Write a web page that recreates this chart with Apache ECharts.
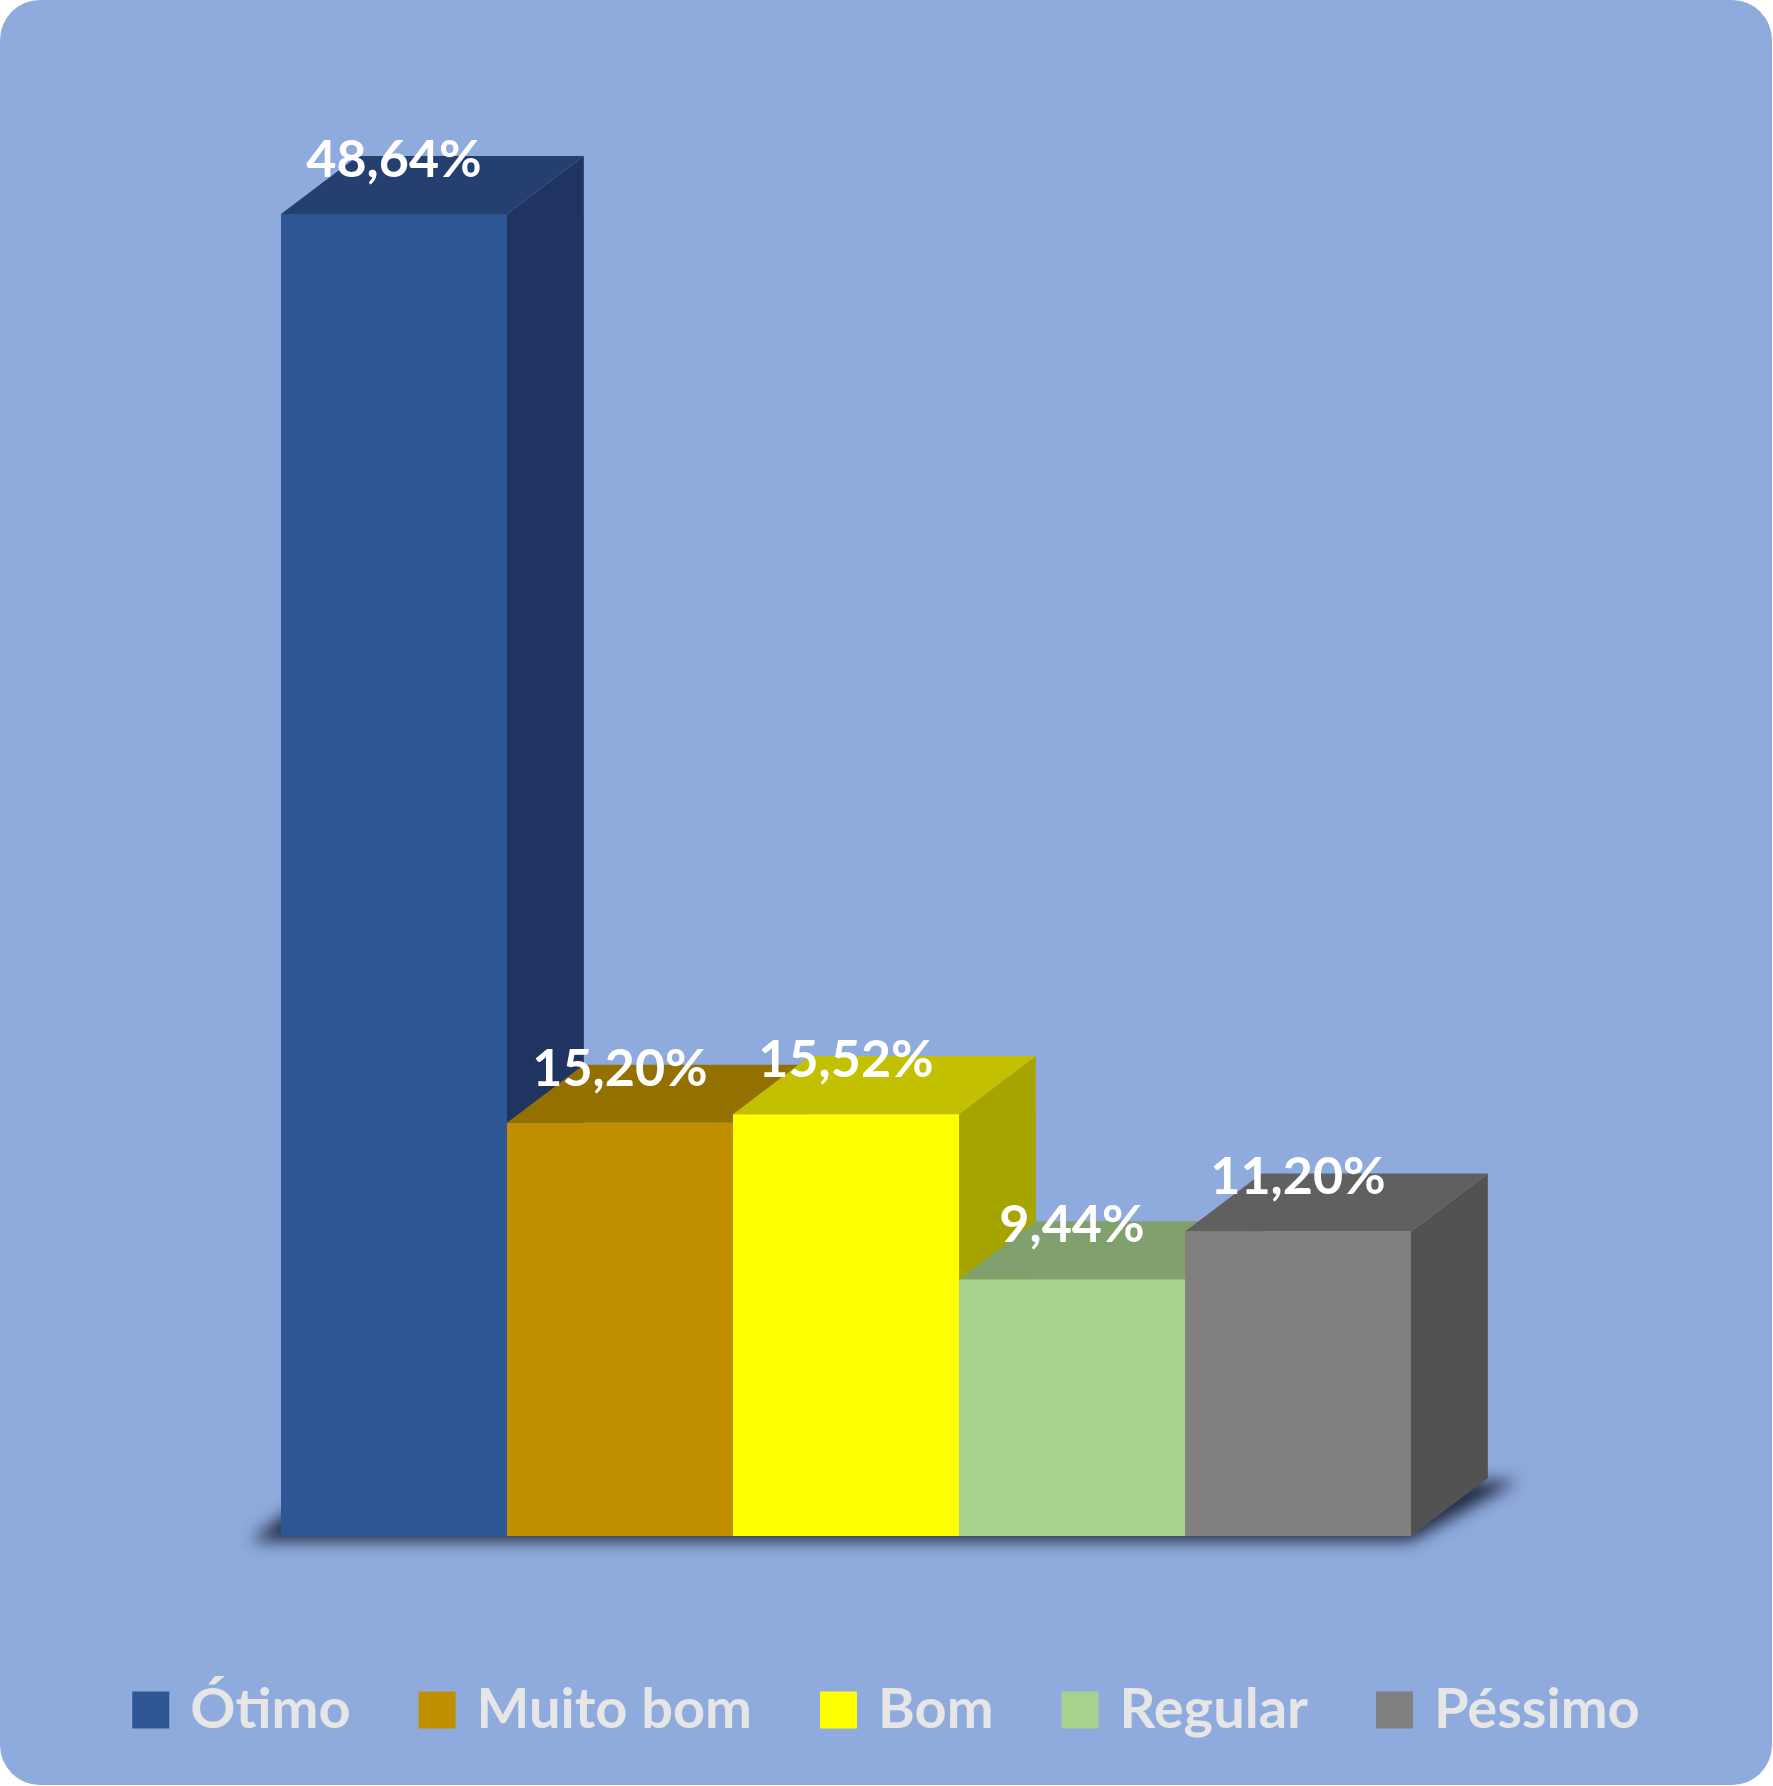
<!DOCTYPE html>
<html>
<head>
<meta charset="utf-8">
<script src="https://cdn.jsdelivr.net/npm/echarts@6/dist/echarts.min.js"></script>
<style>
  html, body { margin: 0; padding: 0; background: #ffffff; }
  #chart { width: 1772px; height: 1785px; background: #8FAADC; border-radius: 40px; overflow: hidden; }
</style>
</head>
<body>
<div id="chart"></div>
<script>
// avaliação (%)
const categories = ['Ótimo', 'Muito bom', 'Bom', 'Regular', 'Péssimo'];
const values = [48.64, 15.20, 15.52, 9.44, 11.20];

// faces of each 3D block
const frontColors = ['#2E5694', '#BF8F00', '#FFFF00', '#A9D18E', '#808080'];
const topColors = ['#243F70', '#937000', '#C2C000', '#80A06D', '#606060'];
const sideColors = ['#1F3460', '#7A5C00', '#A6A500', '#6E8A5D', '#525252'];

const fmt = v => v.toFixed(2).replace('.', ',') + '%';

const chart = echarts.init(document.getElementById('chart'));

function renderBlock(params, api) {
  const i = api.value(0);
  const base = api.coord([i, 0]);
  const top = api.coord([i, api.value(1)]);
  const w = api.size([1, 0])[0];
  const dx = w * 0.34, dy = w * 0.257;
  const x0 = base[0] - w / 2, x1 = base[0] + w / 2;
  const y0 = top[1], yb = base[1];
  return {
    type: 'group',
    children: [
      { type: 'polygon', shape: { points: [[x1, yb], [x1 + dx, yb - dy], [x1 + dx, y0 - dy], [x1, y0]] },
        style: { fill: sideColors[i] } },
      { type: 'polygon', shape: { points: [[x0, y0], [x0 + dx, y0 - dy], [x1 + dx, y0 - dy], [x1, y0]] },
        style: { fill: topColors[i] } },
      { type: 'rect', shape: { x: x0, y: y0, width: w, height: yb - y0 },
        style: { fill: frontColors[i] } },
      { type: 'text', z2: 100,
        style: { x: base[0], y: y0 - dy + 4, text: fmt(api.value(1)), fill: '#ffffff',
          font: 'bold 52px Lato', align: 'center', verticalAlign: 'middle' } }
    ]
  };
}

// soft shadow under the whole row of blocks: the shape sits off to the side,
// only its blurred shadow is moved back under the blocks
function renderFloor(params, api) {
  const n = categories.length;
  const w = api.size([1, 0])[0];
  const dx = w * 0.34, dy = w * 0.257;
  const left = api.coord([0, 0]);
  const right = api.coord([n - 1, 0]);
  const shift = 4000;
  const xa = left[0] - w / 2 - 30 + shift, xb = right[0] + w / 2 + shift, yb = left[1] + 5;
  return {
    type: 'polygon',
    shape: { points: [[xa, yb], [xb, yb], [xb + dx + 30, yb - dy - 2], [xa + dx, yb - dy - 2]] },
    style: { fill: '#1c2740', shadowBlur: 16, shadowColor: 'rgba(28,38,60,0.95)', shadowOffsetX: -shift }
  };
}

const series = [{
  type: 'custom',
  name: '__floor',
  renderItem: renderFloor,
  data: [[0, 0]],
  silent: true,
  clip: false,
  z: 1
}];
categories.forEach((c, i) => {
  series.push({
    type: 'custom',
    name: c,
    renderItem: renderBlock,
    itemStyle: { color: frontColors[i] },
    data: [[i, values[i]]],
    encode: { x: 0, y: 1 },
    z: 2
  });
});

const option = {
  backgroundColor: 'transparent',
  animation: false,
  grid: { left: 281, right: 361, top: 177, bottom: 249 },
  xAxis: { type: 'category', data: categories, show: false },
  yAxis: { type: 'value', min: 0, max: 50, show: false },
  legend: {
    data: categories,
    left: 'center',
    top: 1677,
    icon: 'rect',
    itemWidth: 37,
    itemHeight: 37,
    itemGap: 68,
    textStyle: { color: '#E6E6E6', fontFamily: 'Lato', fontWeight: 'bold', fontSize: 56, lineHeight: 50, padding: [0, 0, 0, 16] }
  },
  series: series
};
chart.setOption(option);
</script>
</body>
</html>
